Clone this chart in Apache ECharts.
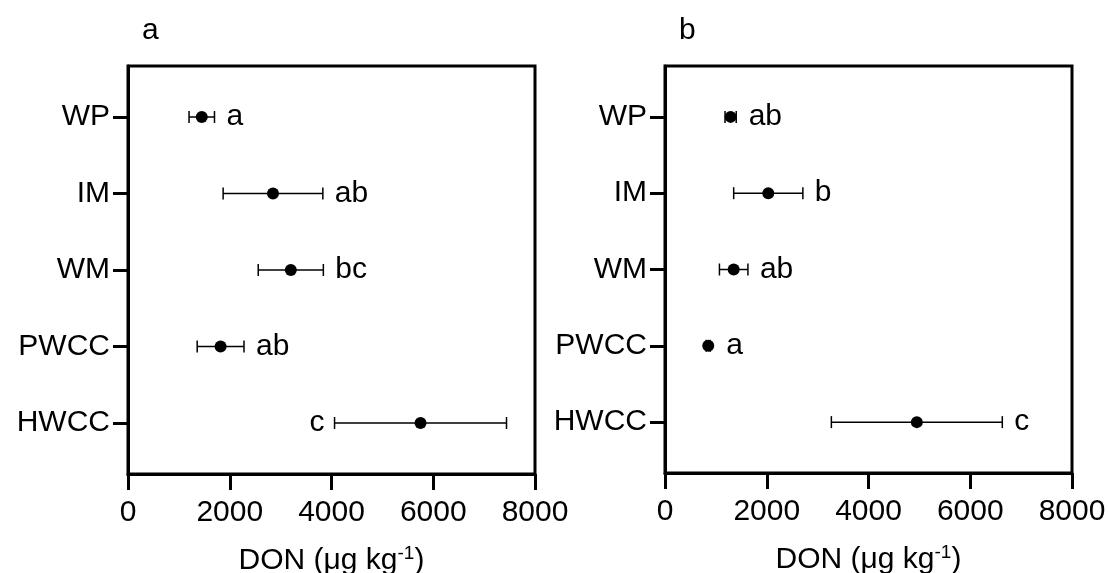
<!DOCTYPE html>
<html>
<head>
<meta charset="utf-8">
<script src="https://cdn.jsdelivr.net/npm/echarts@6/dist/echarts.min.js"></script>
<style>
  html, body { margin: 0; padding: 0; background: #fff; }
  #chart { width: 1109px; height: 573px; }
</style>
</head>
<body>
<div id="chart"></div>
<script>
// Treatments, top to bottom
const categories = ['WP', 'IM', 'WM', 'PWCC', 'HWCC'];

// Panel a: DON mean and error (µg kg-1), with significance letters
const meanA = [1450, 2850, 3200, 1820, 5750];
const errA = [250, 980, 640, 460, 1690];
const lettersA = ['a', 'ab', 'bc', 'ab', 'c'];

// Panel b
const meanB = [1290, 2030, 1350, 850, 4950];
const errB = [110, 680, 280, 40, 1680];
const lettersB = ['ab', 'b', 'ab', 'a', 'c'];

// X-axis ticks
const xTicks = [0, 2000, 4000, 6000, 8000];

// Letters written on the left of their error bar
const leftLetters = [['HWCC'], []];

const FONT = 'Liberation Sans, Arial, sans-serif';
const FS = 30;
// Row positions on the y value axis: first treatment at the top
const rowPos = categories.map((_, i) => 14 - 3 * i);

function axisPair(gi) {
  const xAxis = {
    type: 'value', gridIndex: gi, position: 'bottom',
    min: xTicks[0], max: xTicks[xTicks.length - 1],
    interval: xTicks[1] - xTicks[0],
    splitLine: { show: false },
    axisLine: { show: true, onZero: false, lineStyle: { color: '#000', width: 3 } },
    axisTick: { show: true, inside: false, length: 16, lineStyle: { color: '#000', width: 3 } },
    axisLabel: { color: '#000', fontSize: FS, fontFamily: FONT, margin: 24, formatter: v => String(v) },
    name: 'DON (μg kg{sup|-1})',
    nameLocation: 'middle', nameGap: 70,
    nameTextStyle: {
      color: '#000', fontSize: FS, fontFamily: FONT,
      rich: { sup: { fontSize: 19, fontFamily: FONT, color: '#000', verticalAlign: 'top', padding: [0, 0, 14, 0] } }
    }
  };
  const yAxis = {
    type: 'value', gridIndex: gi, position: 'left', min: 0, max: 16,
    splitLine: { show: false },
    axisLine: { show: true, onZero: false, lineStyle: { color: '#000', width: 3 } },
    axisTick: { show: true, inside: false, length: 15, customValues: rowPos, lineStyle: { color: '#000', width: 3 } },
    axisLabel: {
      color: '#000', fontSize: FS, fontFamily: FONT, margin: 18, customValues: rowPos,
      formatter: v => categories[Math.round((14 - v) / 3)]
    }
  };
  return { xAxis, yAxis };
}

function errSeries(gi, means, errs, letters, leftSet) {
  return {
    type: 'custom', xAxisIndex: gi, yAxisIndex: gi,
    data: means.map((m, i) => [m, rowPos[i], errs[i]]),
    renderItem: (params, api) => {
      const m = api.value(0), y = api.value(1), e = api.value(2);
      const lo = api.coord([m - e, y]);
      const hi = api.coord([m + e, y]);
      const c = api.coord([m, y]);
      const cap = 6;
      const ls = { stroke: '#000', lineWidth: 1.5 };
      const idx = params.dataIndex;
      const onLeft = leftSet.indexOf(categories[idx]) >= 0;
      const r = 6;
      const tx = onLeft ? Math.min(lo[0], c[0] - r) - 10 : Math.max(hi[0], c[0] + r) + 12;
      return {
        type: 'group',
        children: [
          { type: 'line', shape: { x1: lo[0], y1: lo[1], x2: hi[0], y2: hi[1] }, style: ls },
          { type: 'line', shape: { x1: lo[0], y1: lo[1] - cap, x2: lo[0], y2: lo[1] + cap }, style: ls },
          { type: 'line', shape: { x1: hi[0], y1: hi[1] - cap, x2: hi[0], y2: hi[1] + cap }, style: ls },
          { type: 'circle', shape: { cx: c[0], cy: c[1], r: r }, style: { fill: '#000' } },
          {
            type: 'text', x: tx, y: c[1],
            style: {
              text: letters[idx], fill: '#000', font: FS + 'px ' + FONT,
              textAlign: onLeft ? 'right' : 'left', textVerticalAlign: 'middle'
            }
          }
        ]
      };
    }
  };
}

const pa = axisPair(0), pb = axisPair(1);
const gridBase = {
  top: 66, width: 407, show: true, borderColor: '#000', borderWidth: 3,
  backgroundColor: 'transparent', containLabel: false, outerBoundsMode: 'none'
};
const chart = echarts.init(document.getElementById('chart'), null, { renderer: 'canvas' });
chart.setOption({
  animation: false,
  backgroundColor: '#fff',
  grid: [
    Object.assign({}, gridBase, { left: 128, height: 408 }),
    Object.assign({}, gridBase, { left: 665, height: 407 })
  ],
  xAxis: [pa.xAxis, pb.xAxis],
  yAxis: [pa.yAxis, pb.yAxis],
  graphic: [
    { type: 'text', left: 142, top: 16, style: { text: 'a', font: FS + 'px ' + FONT, fill: '#000' } },
    { type: 'text', left: 679, top: 16, style: { text: 'b', font: FS + 'px ' + FONT, fill: '#000' } }
  ],
  series: [
    errSeries(0, meanA, errA, lettersA, leftLetters[0]),
    errSeries(1, meanB, errB, lettersB, leftLetters[1])
  ]
});
</script>
</body>
</html>
